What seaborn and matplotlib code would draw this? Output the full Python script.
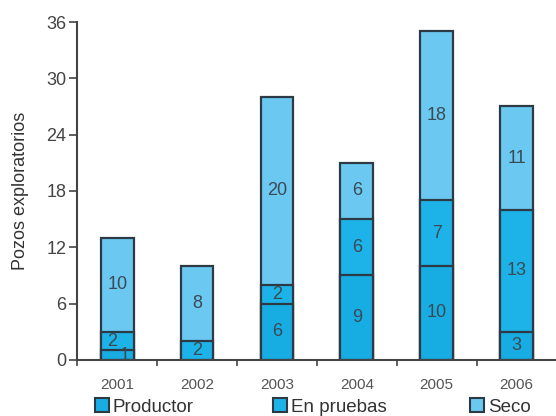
import matplotlib
matplotlib.use("Agg")
import matplotlib.pyplot as plt
from matplotlib.patches import Patch
import seaborn as sns
import pandas as pd

years = ["2001", "2002", "2003", "2004", "2005", "2006"]
productor = [1, 0, 6, 9, 10, 3]
en_pruebas = [2, 2, 2, 6, 7, 13]
seco = [10, 8, 20, 6, 18, 11]
series_names = ["Productor", "En pruebas", "Seco"]

c_prod = "#17ade3"
c_prue = "#1db3e8"
c_seco = "#6bc8f0"
edge = "#2b3a44"

df = pd.DataFrame({"year": years, "prod": productor, "prue": en_pruebas, "seco": seco})
df["lvl2"] = df["prod"] + df["prue"]
df["total"] = df["lvl2"] + df["seco"]

sns.set_style("white")
plt.rcParams["font.family"] = ["Liberation Sans", "DejaVu Sans"]
fig = plt.figure(figsize=(5.56, 4.16), dpi=100)
ax = fig.add_axes([0.139, 0.135, 0.862, 0.812])

w = 0.41
sns.barplot(data=df, x="year", y="total", color=c_seco, width=w, edgecolor=edge,
            linewidth=1.6, saturation=1, ax=ax)
sns.barplot(data=df, x="year", y="lvl2", color=c_prue, width=w, edgecolor=edge,
            linewidth=1.6, saturation=1, ax=ax)
sns.barplot(data=df[df["prod"] > 0], x="year", y="prod", order=years, color=c_prod,
            width=w, edgecolor=edge, linewidth=1.6, saturation=1, ax=ax)

# segment labels (tiny segments get nudged sideways like in the original)
for i, r in df.iterrows():
    segs = [(0, r["prod"]), (r["prod"], r["prue"]), (r["lvl2"], r["seco"])]
    for k, (base, v) in enumerate(segs):
        if v <= 0:
            continue
        dx = 0
        if v < 2 and k == 0:
            dx = 0.09
        elif r["prod"] < 2 and k == 1 and r["prod"] > 0:
            dx = -0.07
        ax.text(i + dx, base + v / 2, str(v), ha="center", va="center",
                fontsize=13, color="#3a4a55")

ax.set_xlim(-0.5, 5.5)
ax.set_ylim(0, 36)
ax.set_yticks(range(0, 37, 6))
ax.set_xlabel("")
ax.set_ylabel("Pozos exploratorios", fontsize=13, color="#333333")
ax.yaxis.set_label_coords(-0.1, 0.5)
ax.tick_params(axis="y", length=6, width=1.2, color="#444444", labelsize=13,
               labelcolor="#444444", left=True, pad=2)
ax.tick_params(axis="x", length=0, labelsize=11, labelcolor="#555555", pad=13)
ax.set_xticks(range(6))
ax.set_xticks([x + 0.5 for x in range(-1, 6)], minor=True)
ax.tick_params(axis="x", which="minor", length=4, width=1.2, color="#444444", bottom=True)
for s in ["top", "right"]:
    ax.spines[s].set_visible(False)
for s in ["left", "bottom"]:
    ax.spines[s].set_color("#444444")
    ax.spines[s].set_linewidth(1.5)

colors = [c_prod, c_prue, c_seco]
leg_x = [95, 273, 470]
for name, col, lx in zip(series_names, colors, leg_x):
    leg = fig.legend(handles=[Patch(facecolor=col, edgecolor=edge, linewidth=1.5, label=name)],
                     loc="center left", bbox_to_anchor=(lx / 556, 1 - 407 / 416),
                     frameon=False, fontsize=13.5, handlelength=0.75, handleheight=0.75,
                     handletextpad=0.2, borderpad=0, borderaxespad=0, labelcolor="#333333")

fig.savefig("out.png", dpi=100)
